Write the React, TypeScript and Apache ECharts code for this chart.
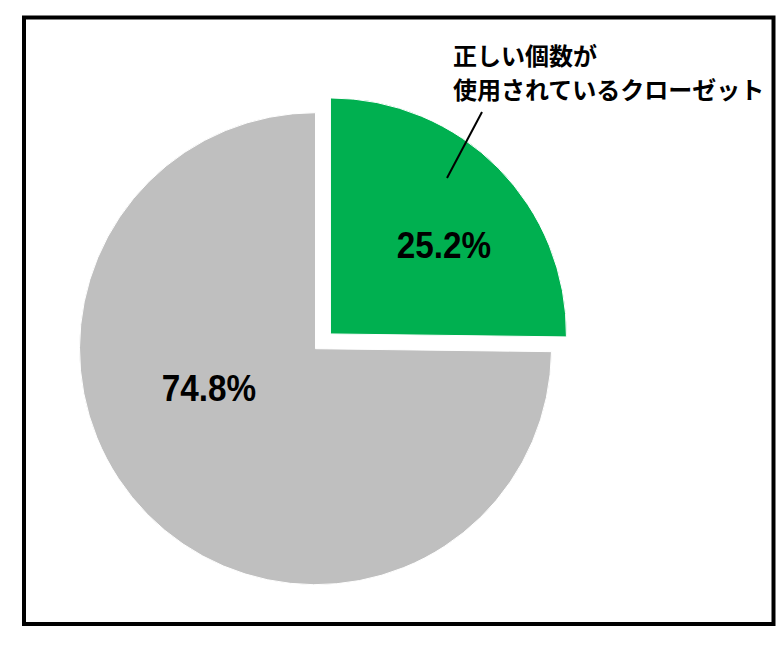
import React, { useEffect, useRef } from 'react';
import * as echarts from 'echarts';

const categories = ['正しい個数が\n使用されているクローゼット', 'それ以外'];
const values = [25.2, 74.8];
const colors = ['#00B050', '#BFBFBF'];

// where each percentage label sits (px)
const labelPos = [
  [444, 245],
  [209, 388]
];

const App: React.FC = () => {
  const chartRef = useRef<HTMLDivElement>(null);

  useEffect(() => {
    if (!chartRef.current) return;
    const chart = echarts.init(chartRef.current, null, { renderer: 'svg' });

    // percentage labels, slightly condensed like the original
    const pctLabels = values.map((v, i) => ({
      type: 'text',
      x: labelPos[i][0],
      y: labelPos[i][1],
      scaleX: 0.9,
      style: {
        text: v.toFixed(1) + '%',
        fontFamily: '"Liberation Sans", Arial, sans-serif',
        fontWeight: 'bold',
        fontSize: 37,
        fill: '#000',
        align: 'center',
        verticalAlign: 'middle'
      },
      z: 10
    }));

    const option: any = {
      animation: false,
      graphic: [
        {
          type: 'rect',
          shape: { x: 24, y: 17.5, width: 749.5, height: 606.5 },
          style: { fill: 'none', stroke: '#000', lineWidth: 4 },
          z: 10
        },
        {
          type: 'text',
          x: 453,
          y: 37,
          style: {
            text: categories[0],
            fontFamily: '"Noto Sans CJK JP", sans-serif',
            fontWeight: 'bold',
            fontSize: 24,
            lineHeight: 34,
            fill: '#000',
            align: 'left',
            verticalAlign: 'top'
          },
          z: 10
        },
        {
          type: 'line',
          shape: { x1: 482, y1: 112, x2: 447, y2: 178 },
          style: { stroke: '#000', lineWidth: 2 },
          z: 10
        },
        ...pctLabels
      ],
      series: [
        {
          type: 'pie',
          center: [315.5, 348.7],
          radius: 236,
          startAngle: 90,
          clockwise: true,
          selectedMode: 'single',
          selectedOffset: 21,
          emphasis: { disabled: true },
          itemStyle: { borderColor: '#fff', borderWidth: 1 },
          label: { show: false },
          labelLine: { show: false },
          data: values.map((v, i) => ({
            name: categories[i],
            value: v,
            selected: i === 0,
            itemStyle: { color: colors[i] }
          }))
        }
      ]
    };

    chart.setOption(option);
    return () => chart.dispose();
  }, []);

  return (
    <div
      ref={chartRef}
      style={{ position: 'absolute', left: 0, top: 0, width: 779, height: 668, background: '#fff' }}
    />
  );
};

export default App;
